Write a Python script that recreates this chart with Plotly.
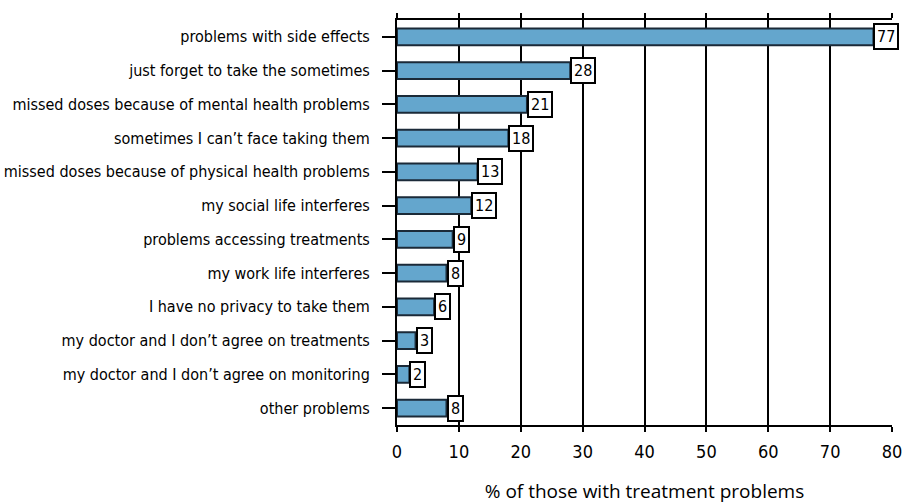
import plotly.graph_objects as go

categories = [
    "problems with side effects",
    "just forget to take the sometimes",
    "missed doses because of mental health problems",
    "sometimes I can\u2019t face taking them",
    "missed doses because of physical health problems",
    "my social life interferes",
    "problems accessing treatments",
    "my work life interferes",
    "I have no privacy to take them",
    "my doctor and I don\u2019t agree on treatments",
    "my doctor and I don\u2019t agree on monitoring",
    "other problems",
]
values = [77, 28, 21, 18, 13, 12, 9, 8, 6, 3, 2, 8]
x_ticks = [0, 10, 20, 30, 40, 50, 60, 70, 80]

FONT = "DejaVu Sans Condensed, Liberation Sans Narrow, sans-serif"
TITLE_FONT = "Open Sans, DejaVu Sans, sans-serif"

fig = go.Figure()
fig.add_trace(go.Bar(
    y=categories, x=values, orientation="h",
    marker=dict(color="#64a6cd", line=dict(color="#1b2a38", width=2)),
    width=0.5,
))

for c, v in zip(categories, values):
    fig.add_annotation(
        x=v, y=c, xref="x", yref="y", text=str(v), showarrow=False,
        xanchor="left", yanchor="middle",
        bgcolor="white", bordercolor="black", borderwidth=2, borderpad=2,
        font=dict(family=FONT, size=16, color="black"),
    )

fig.update_layout(
    width=902, height=504,
    margin=dict(l=397, r=10, t=20, b=79),
    plot_bgcolor="white", paper_bgcolor="white",
    showlegend=False,
    font=dict(family=FONT, size=16, color="black"),
)
fig.update_xaxes(
    range=[0, 80], tickvals=x_ticks, ticktext=[str(t) for t in x_ticks],
    showgrid=True, gridcolor="black", gridwidth=2,
    showline=True, linecolor="black", linewidth=2, mirror="ticks",
    ticks="outside", ticklen=5, tickwidth=2, tickcolor="black",
    zeroline=False, automargin=False, ticklabeloverflow="allow",
    ticklabelstandoff=4,
    title=dict(text="% of those with treatment problems",
               font=dict(family=TITLE_FONT, size=19), standoff=24),
    tickfont=dict(size=18),
)
fig.update_yaxes(
    categoryorder="array", categoryarray=categories[::-1],
    showline=True, linecolor="black", linewidth=2,
    ticks="outside", ticklen=13, tickwidth=2, tickcolor="black",
    showgrid=False, ticklabelstandoff=9, automargin=False,
    tickfont=dict(size=16),
)

fig.write_html(
    "out.html",
    config={"displayModeBar": False},
    post_script="document.body.style.margin='0';document.body.style.padding='0';",
)
